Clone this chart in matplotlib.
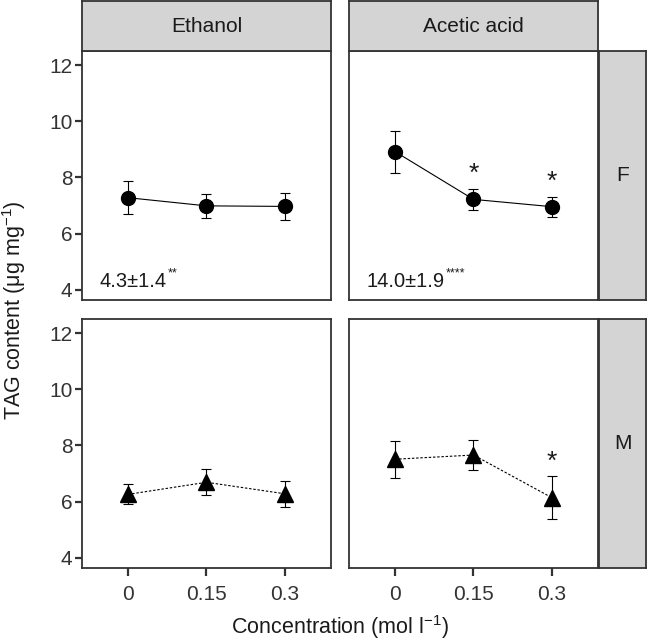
import numpy as np
import matplotlib.pyplot as plt

plt.rcParams['font.family'] = ['Liberation Sans', 'DejaVu Sans']
plt.rcParams['mathtext.fontset'] = 'custom'
plt.rcParams['mathtext.rm'] = 'Liberation Sans'
plt.rcParams['mathtext.it'] = 'Liberation Sans:italic'

conc = [0, 0.15, 0.3]
conc_labels = ['0', '0.15', '0.3']
solvents = ['Ethanol', 'Acetic acid']
sexes = ['F', 'M']

# mean and SE of TAG content (ug/mg)
f_eth_mean = [7.28, 6.99, 6.97]
f_eth_se = [0.59, 0.42, 0.49]
f_ace_mean = [8.92, 7.22, 6.96]
f_ace_se = [0.75, 0.37, 0.36]
m_eth_mean = [6.26, 6.69, 6.28]
m_eth_se = [0.36, 0.47, 0.47]
m_ace_mean = [7.51, 7.66, 6.14]
m_ace_se = [0.65, 0.52, 0.76]

# significance stars per point
f_eth_sig = ['', '', '']
f_ace_sig = ['', '*', '*']
m_eth_sig = ['', '', '']
m_ace_sig = ['', '', '*']

# slope annotations (female row only)
slope_text = ['4.3±1.4', '14.0±1.9']
slope_sig = ['**', '****']

panels = {
    ('F', 'Ethanol'): (f_eth_mean, f_eth_se, f_eth_sig),
    ('F', 'Acetic acid'): (f_ace_mean, f_ace_se, f_ace_sig),
    ('M', 'Ethanol'): (m_eth_mean, m_eth_se, m_eth_sig),
    ('M', 'Acetic acid'): (m_ace_mean, m_ace_se, m_ace_sig),
}

W, H = 648, 641
fig = plt.figure(figsize=(W / 100, H / 100), dpi=100)

edge = '#333333'
txt = '#1a1a1a'
strip_fill = '#d4d4d4'

col_x = [82, 349]      # panel left edges (px)
row_y = [51, 319]      # panel top edges (px)
pw, ph = 249, 249


def px_axes(x0, y0, w, h):
    return fig.add_axes([x0 / W, 1 - (y0 + h) / H, w / W, h / H])


def strip(ax, text):
    ax.set_facecolor(strip_fill)
    ax.set_xticks([])
    ax.set_yticks([])
    for s in ax.spines.values():
        s.set_color(edge)
        s.set_linewidth(1.3)
    ax.text(0.5, 0.5, text, transform=ax.transAxes, ha='center', va='center',
            fontsize=15, color=txt)


for i, sex in enumerate(sexes):
    for j, solv in enumerate(solvents):
        mean, se, sig = panels[(sex, solv)]
        ax = px_axes(col_x[j], row_y[i], pw, ph)
        ls = '-' if sex == 'F' else (0, (2.2, 1.6))
        mk = 'o' if sex == 'F' else '^'
        ms = 10 if sex == 'F' else 11
        ax.plot(conc, mean, color='black', lw=0.8, ls=ls, zorder=2)
        ax.errorbar(conc, mean, yerr=se, fmt='none', ecolor='black',
                    elinewidth=0.8, capsize=3.6, capthick=0.8, zorder=3)
        ax.plot(conc, mean, ls='none', marker=mk, ms=ms, color='black', zorder=4)
        for x, m, s, st in zip(conc, mean, se, sig):
            if st:
                ax.text(x, m + s + 0.1, st, ha='center', va='bottom',
                        fontsize=19, color=txt)
        ax.set_xlim(-0.088, 0.388)
        ax.set_ylim(3.64, 12.5)
        ax.set_yticks([4, 6, 8, 10, 12])
        ax.set_xticks(conc)
        ax.set_xticklabels(conc_labels)
        ax.tick_params(axis='both', colors=edge, width=1.6, length=5,
                       labelsize=15, labelcolor='#333333')
        ax.tick_params(axis='x', length=6, pad=6)
        ax.tick_params(axis='y', pad=2)
        if j > 0:
            ax.tick_params(axis='y', left=False, labelleft=False)
        if i == 0:
            ax.tick_params(axis='x', bottom=False, labelbottom=False)
            t = ax.text(0.07, 0.075, slope_text[j], transform=ax.transAxes,
                        ha='left', va='center', fontsize=14.5, color=txt)
            ax.annotate(slope_sig[j], xy=(1.0, 0.62), xycoords=t,
                        xytext=(1, 0), textcoords='offset points',
                        ha='left', va='bottom', fontsize=9, color=txt)
        for s in ax.spines.values():
            s.set_color(edge)
            s.set_linewidth(1.3)
        if i == 0:
            strip(px_axes(col_x[j], 1, pw, 50), solv)
    strip(px_axes(599, row_y[i], 47, ph), sex)

fig.text(14 / W, 1 - 310 / H, r'TAG content (μg mg$^{−1}$)', rotation=90,
         ha='center', va='center', fontsize=15.5, color=txt)
fig.text(340 / W, 1 - 627 / H, r'Concentration (mol l$^{−1}$)',
         ha='center', va='center', fontsize=15.5, color=txt)

fig.savefig('out.png', dpi=100)
